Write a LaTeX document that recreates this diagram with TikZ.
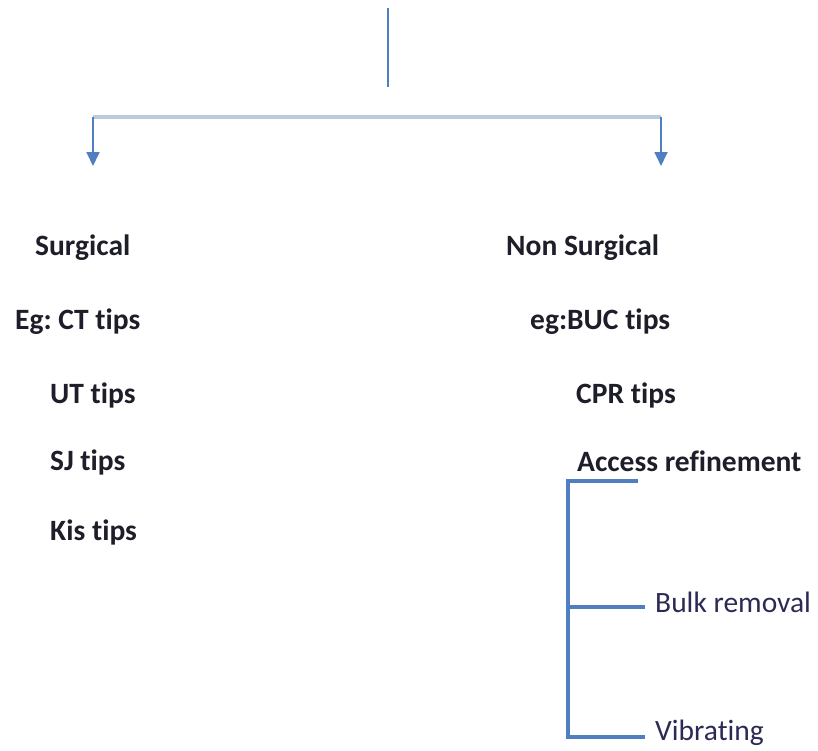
\documentclass[tikz,border=0pt]{standalone}
\usepackage{fontspec}
\setmainfont{Carlito}[Ligatures={NoCommon}]
\usetikzlibrary{arrows.meta}
\frenchspacing
\definecolor{lnblue}{HTML}{4F7FC0}
\definecolor{hgray}{HTML}{BCCBDB}
\definecolor{txt}{HTML}{1E1E2A}
\definecolor{txtb}{HTML}{2A2A55}
\tikzset{
  lbl/.style={anchor=west, inner sep=0pt, text=txt, font=\fontsize{29.5}{34}\selectfont\bfseries},
  lblr/.style={anchor=west, inner sep=0pt, text=txtb, font=\fontsize{29.5}{34}\selectfont},
  thinln/.style={draw=lnblue, line width=1.8pt},
  arr/.style={thinln, -{Triangle[width=13pt,length=14pt]}},
  brk/.style={draw=lnblue, line width=3.5pt}
}
\begin{document}
\begin{tikzpicture}[x=1pt,y=-1pt]
\useasboundingbox (0,0) rectangle (818,750);
% top connector
\coordinate (top) at (388,8);
\coordinate (mid) at (388,87);
\coordinate (hl) at (93,117);
\coordinate (hr) at (661,117);
\coordinate (al) at (93,166);
\coordinate (ar) at (661,166);
\draw[thinln] (top) -- (mid);
\draw[draw=hgray, line width=4pt] (hl) -- (hr);
\draw[arr] (hl) -- (al);
\draw[arr] (hr) -- (ar);
% left column
\node[lbl] (surg) at (35,248) {Surgical};
\node[lbl] (ct) at (15,322) {Eg: CT tips};
\node[lbl] (ut) at (50,395) {UT tips};
\node[lbl] (sj) at (50,462) {SJ tips};
\node[lbl] (kis) at (50,532) {Kis tips};
% right column
\node[lbl] (nons) at (506,248) {Non Surgical};
\node[lbl] (buc) at (530,322) {eg:BUC tips};
\node[lbl] (cpr) at (576,395) {CPR tips};
\node[lbl] (acc) at (577,461) {Access refinement};
\node[lblr] (bulk) at (655,602) {Bulk removal};
\node[lblr] (vib) at (655,733) {Vibrating};
% bracket
\coordinate (b1) at (568,481);
\coordinate (b1e) at (638,481);
\coordinate (b2) at (568,607);
\coordinate (b2e) at (645,607);
\coordinate (b3) at (568,737);
\coordinate (b3e) at (645,737);
\draw[brk] (b1e) -- (b1) -- (b3) -- (b3e);
\draw[brk] (b2) -- (b2e);
\end{tikzpicture}
\end{document}
